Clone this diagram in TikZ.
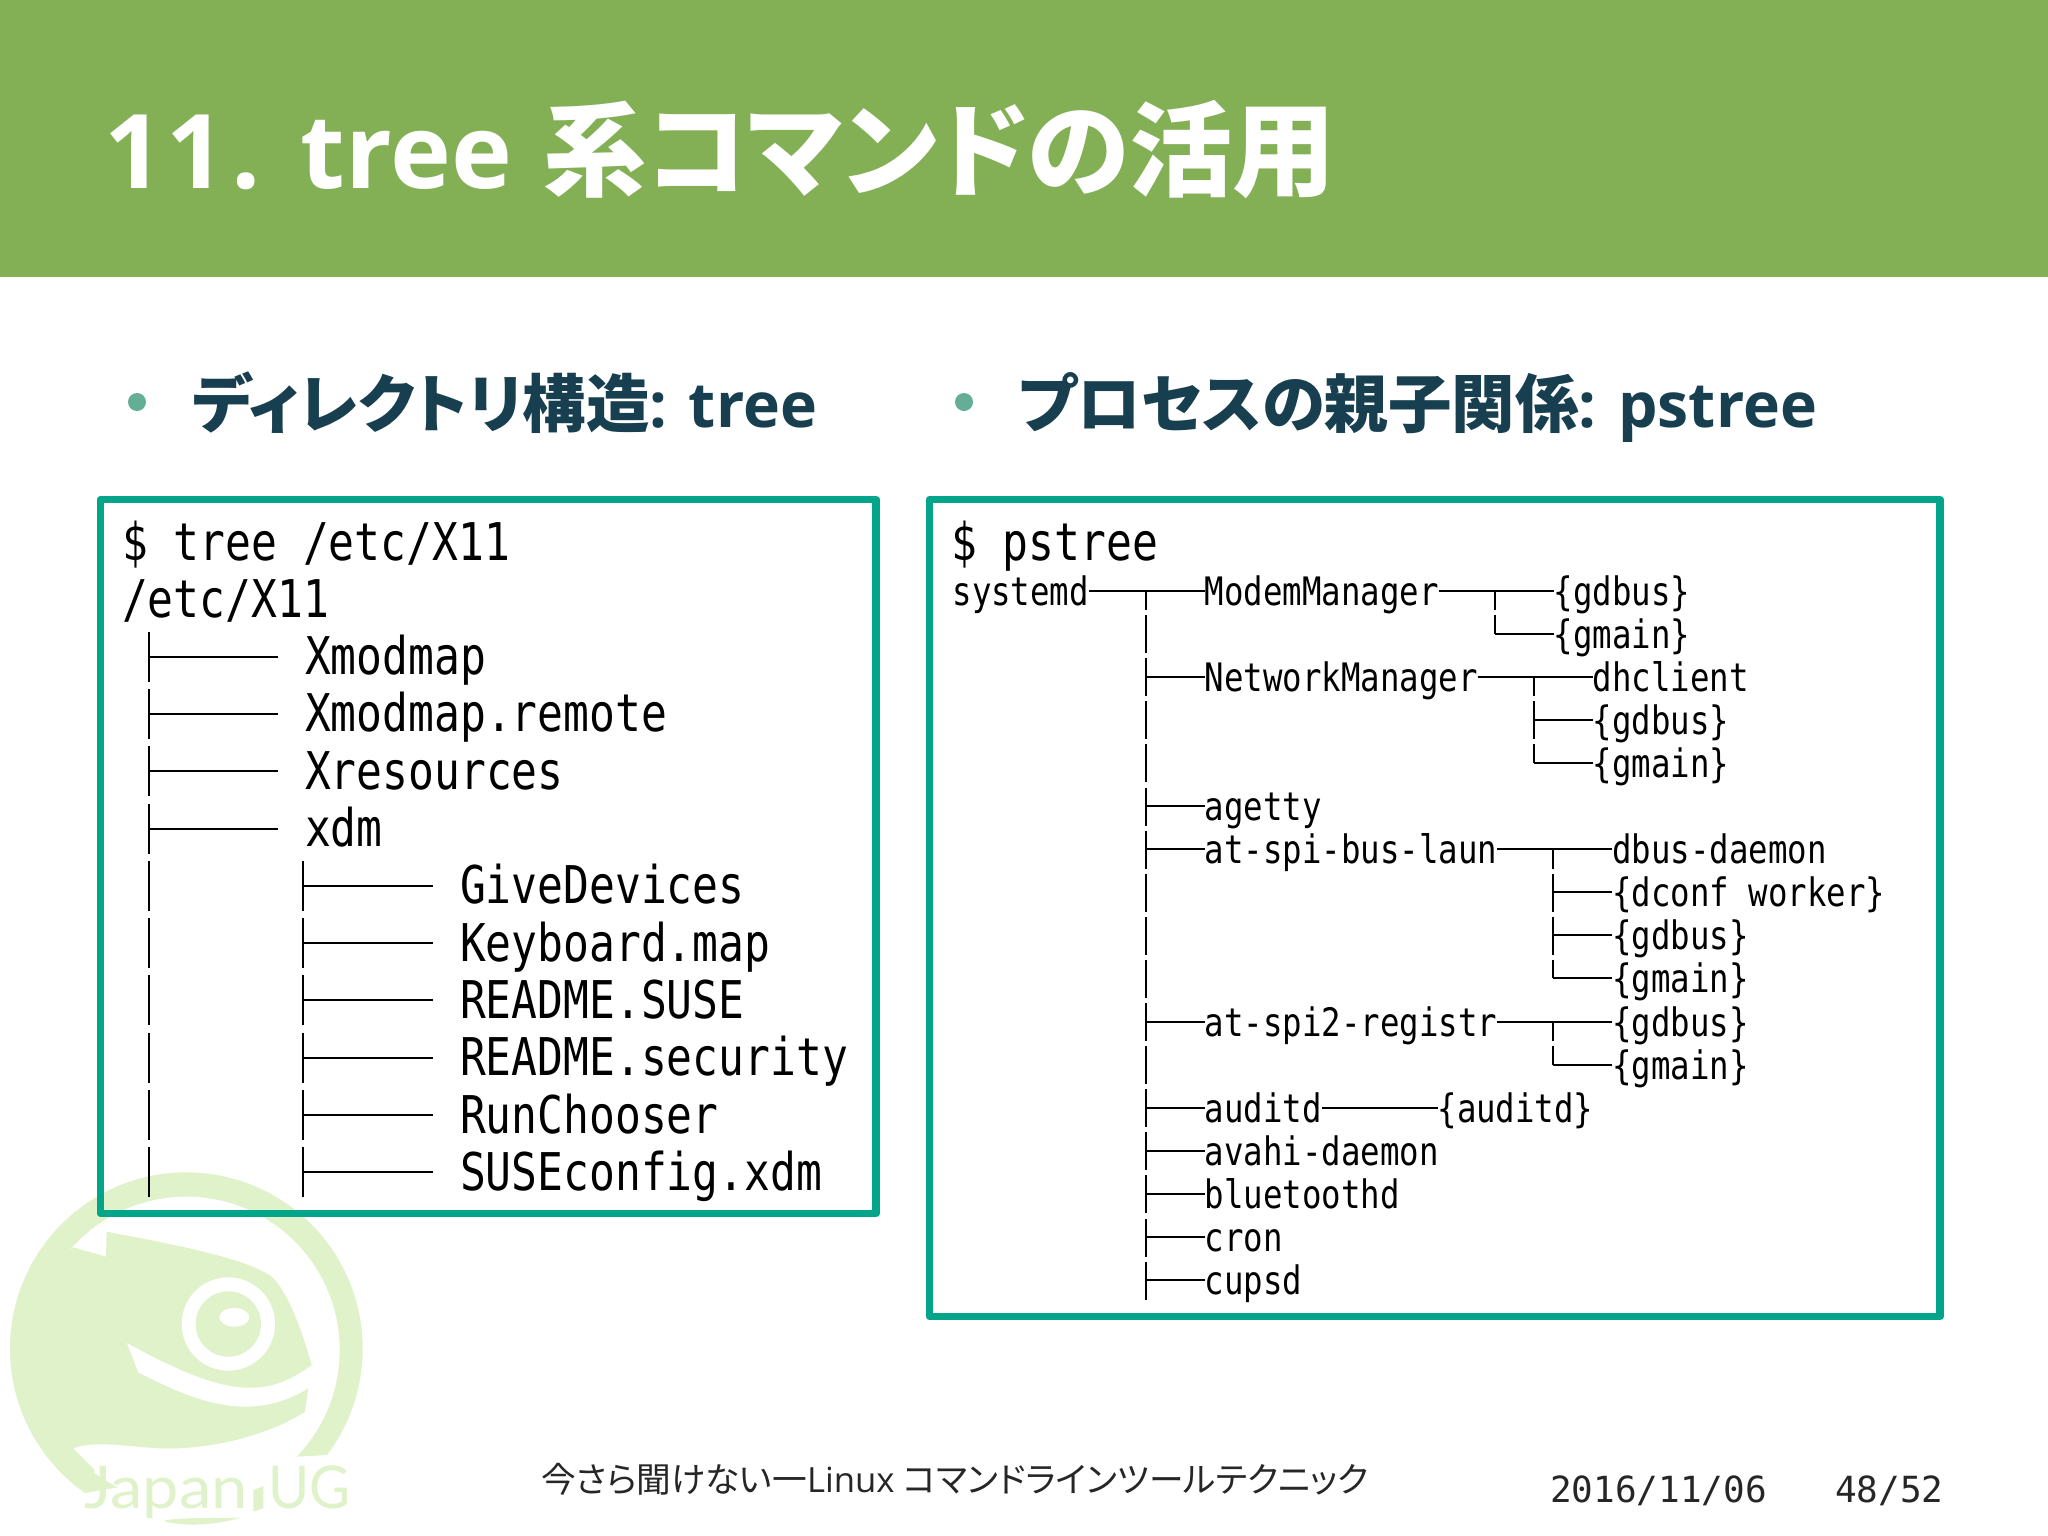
\documentclass[tikz,border=0pt]{standalone}
\usepackage{fontspec}
\setmainfont{Open Sans}
\newfontfamily\cjk[RawFeature=+palt]{Noto Sans CJK JP}
\newfontfamily\logofont[FakeStretch=1.1]{Lato}
\newfontfamily\logofontb[FakeStretch=0.95]{Lato}
\newfontfamily\termfont[FakeStretch=0.826]{DejaVu Sans Mono}
\newfontfamily\footfont{DejaVu Sans Mono}
\definecolor{headgreen}{HTML}{83B055}
\definecolor{boxteal}{HTML}{02A58A}
\definecolor{headtext}{HTML}{173F4F}
\definecolor{bulletc}{HTML}{64AE96}
\definecolor{logogreen}{HTML}{E0F2C9}
\tikzset{
  termbig/.style={anchor=base west,inner sep=0pt,outer sep=0pt,font={\termfont\fontsize{52}{52}\selectfont},text=black},
  termsmall/.style={anchor=base west,inner sep=0pt,outer sep=0pt,font={\termfont\fontsize{39.2}{39.2}\selectfont},text=black},
  conn/.style={draw=black,line width=2pt},
  termbox/.style={draw=boxteal,line width=7.5pt,line join=round},
  headlabel/.style={anchor=base west,inner sep=0pt,text=headtext,font={\bfseries\fontsize{62.5}{62.5}\selectfont}},
  bulletdot/.style={circle,fill=bulletc,inner sep=0pt,minimum size=18pt},
}
\newcommand{\headcjk}[1]{{\cjk\fontsize{63.5}{63.5}\selectfont #1}}
% left tree helpers
\newcommand{\bigrow}[4]{\node[termbig] (#1) at ({#2},{560+57.3*#3}) {#4};}
\newcommand{\bigdash}[2]{\draw[conn] ({#1},{560+57.3*#2-43}) -- ({#1},{560+57.3*#2+7});}
\newcommand{\bigtick}[3]{%
  \bigdash{#1}{#2}
  \coordinate (v#3) at ({#1},{560+57.3*#2-18});
  \draw[conn] (v#3) -- ([xshift=-27pt,yshift=18pt]#3.base west);}
% right tree helpers
\newcommand{\smrow}[4]{\node[termsmall] (#1) at ({952.5+19.4*#2},{605+43.1*#3}) {#4};}
\newcommand{\smdash}[2]{\draw[conn] ({952+19.4*#1},{605+43.1*#2-33}) -- ({952+19.4*#1},{605+43.1*#2+5});}
\newcommand{\smtee}[2]{\draw[conn] ({952+19.4*#1},{605+43.1*#2-14.5}) -- ({952+19.4*#1},{605+43.1*#2+5});}
\newcommand{\smjoin}[2]{\draw[conn] ([yshift=14.5pt]#1.base east) -- ([yshift=14.5pt]#2.base west);}
\newcommand{\smtick}[3]{%
  \smdash{#1}{#2}
  \coordinate (w#3) at ({952+19.4*#1},{605+43.1*#2-14.5});
  \draw[conn] (w#3) -- ([yshift=14.5pt]#3.base west);}
\newcommand{\smcorner}[3]{%
  \draw[conn] ({952+19.4*#1},{605+43.1*#2-33}) -- ({952+19.4*#1},{605+43.1*#2-14.5});
  \coordinate (w#3) at ({952+19.4*#1},{605+43.1*#2-14.5});
  \draw[conn] (w#3) -- ([yshift=14.5pt]#3.base west);}
\begin{document}
\begin{tikzpicture}[x=1pt,y=-1pt]
\useasboundingbox (0,0) rectangle (2048,1535);
\fill[white] (0,0) rectangle (2048,1535);
% logo
\begin{scope}[shift={(0,1150)},x=0.33333pt,y=-0.33333pt]
  \fill[logogreen] (559,596) circle[radius=529];
  \fill[white] (559,600) circle[radius=460];
  \fill[white] (255,1029) -- (255,1150) -- (1110,1150) -- (1110,900) -- (985,915) -- (890,920) -- cycle;
  \fill[logogreen] (320,245) .. controls (560,290) and (720,325) .. (800,370)
    .. controls (850,395) and (900,520) .. (935,645)
    .. controls (800,745) and (680,745) .. (380,578)
    -- (415,668) .. controls (560,740) and (740,830) .. (925,715)
    -- (915,785) .. controls (800,860) and (620,900) .. (480,895)
    .. controls (380,890) and (280,870) .. (220,895)
    -- (285,960) -- (255,1029) -- (100,860) -- (40,600) -- (90,400) -- (220,292) -- (318,320) -- cycle;
  \fill[white] (685,522) circle[radius=140];
  \fill[logogreen] (685,522) circle[radius=98];
  \fill[white] (703,502) ellipse[x radius=45,y radius=28];
  \fill[logogreen] (497,1110) .. controls (600,1100) and (650,1105) .. (720,1103)
    .. controls (650,1125) and (560,1130) .. (497,1115) -- cycle;
  \fill[logogreen] (760,1020) -- (790,1008) -- (790,1075) -- (760,1085) -- cycle;
\end{scope}
\node[anchor=base west,inner sep=0pt,text=logogreen,font={\logofont\fontsize{59}{59}\selectfont}] (japan) at (84,1508) {Japan};
\node[anchor=base west,inner sep=0pt,text=logogreen,font={\logofontb\fontsize{59}{59}\selectfont}] (ug) at (268,1508) {UG};
% header
\fill[headgreen] (0,0) rectangle (2048,277);
\node[anchor=base west,inner sep=0pt,text=white,font={\bfseries\fontsize{103}{103}\selectfont}] (title) at (104,188) {1\hspace{3pt}1\hspace{7pt}.\hspace{4pt} tree\hspace{5pt} {\cjk\fontsize{103}{103}\selectfont 系コマンドの活用}};
% bullets
\node[bulletdot] (b1) at (137,402) {};
\node[headlabel] (h1) at (192,427) {\headcjk{ディレクトリ構造}: tree};
\node[bulletdot] (b2) at (964,402) {};
\node[headlabel] (h2) at (1018,427) {\headcjk{プロセスの親子関係}: pstree};
% boxes
\draw[termbox] (100.5,499.5) rectangle (876,1213.5);
\draw[termbox] (929.5,499.5) rectangle (1940,1316.5);
% left terminal
\bigrow{l0}{122}{0}{\$ tree /etc/X11}
\bigrow{l1}{122}{1}{/etc/X11}
\bigrow{a1}{305}{2}{Xmodmap}
\bigrow{a2}{305}{3}{Xmodmap.remote}
\bigrow{a3}{305}{4}{Xresources}
\bigrow{a4}{305}{5}{xdm}
\bigrow{c1}{460}{6}{GiveDevices}
\bigrow{c2}{460}{7}{Keyboard.map}
\bigrow{c3}{460}{8}{README.SUSE}
\bigrow{c4}{460}{9}{README.security}
\bigrow{c5}{460}{10}{RunChooser}
\bigrow{c6}{460}{11}{SUSEconfig.xdm}
\bigtick{149}{2}{a1}
\bigtick{149}{3}{a2}
\bigtick{149}{4}{a3}
\bigtick{149}{5}{a4}
\foreach \r in {6,...,11} {\bigdash{149}{\r}}
\bigtick{303}{6}{c1}
\bigtick{303}{7}{c2}
\bigtick{303}{8}{c3}
\bigtick{303}{9}{c4}
\bigtick{303}{10}{c5}
\bigtick{303}{11}{c6}
% right terminal
\node[termbig] (r0) at (951,560) {\$ pstree};
\smrow{sd}{0}{0}{systemd}
\smrow{mm}{13}{0}{ModemManager}
\smrow{mg1}{31}{0}{\{gdbus\}}
\smrow{mg2}{31}{1}{\{gmain\}}
\smrow{nm}{13}{2}{NetworkManager}
\smrow{nd}{33}{2}{dhclient}
\smrow{ng1}{33}{3}{\{gdbus\}}
\smrow{ng2}{33}{4}{\{gmain\}}
\smrow{ag}{13}{5}{agetty}
\smrow{ab}{13}{6}{at-spi-bus-laun}
\smrow{ab1}{34}{6}{dbus-daemon}
\smrow{ab2}{34}{7}{\{dconf worker\}}
\smrow{ab3}{34}{8}{\{gdbus\}}
\smrow{ab4}{34}{9}{\{gmain\}}
\smrow{ar}{13}{10}{at-spi2-registr}
\smrow{ar1}{34}{10}{\{gdbus\}}
\smrow{ar2}{34}{11}{\{gmain\}}
\smrow{au}{13}{12}{auditd}
\smrow{au1}{25}{12}{\{auditd\}}
\smrow{av}{13}{13}{avahi-daemon}
\smrow{bt}{13}{14}{bluetoothd}
\smrow{cr}{13}{15}{cron}
\smrow{cu}{13}{16}{cupsd}
\smjoin{sd}{mm}\smtee{10}{0}
\smjoin{mm}{mg1}\smtee{28}{0}
\smcorner{28}{1}{mg2}
\smjoin{nm}{nd}\smtee{30}{2}
\smtick{30}{3}{ng1}
\smcorner{30}{4}{ng2}
\smjoin{ab}{ab1}\smtee{31}{6}
\smtick{31}{7}{ab2}
\smtick{31}{8}{ab3}
\smcorner{31}{9}{ab4}
\smjoin{ar}{ar1}\smtee{31}{10}
\smcorner{31}{11}{ar2}
\smjoin{au}{au1}
\foreach \r in {1,3,4,7,8,9,11} {\smdash{10}{\r}}
\smtick{10}{2}{nm}
\smtick{10}{5}{ag}
\smtick{10}{6}{ab}
\smtick{10}{10}{ar}
\smtick{10}{12}{au}
\smtick{10}{13}{av}
\smtick{10}{14}{bt}
\smtick{10}{15}{cr}
\smtick{10}{16}{cu}
% footer
\node[anchor=base west,inner sep=0pt,text=black!85,font={\fontsize{34.7}{34.7}\selectfont}] (ft) at (541,1492) {{\cjk 今さら聞けない一}Linux {\cjk コマンドラインツールテクニック}};
\node[anchor=base west,inner sep=0pt,text=black!85,font={\footfont\fontsize{36}{36}\selectfont}] (fd) at (1550,1502) {2016/11/06};
\node[anchor=base west,inner sep=0pt,text=black!85,font={\footfont\fontsize{36}{36}\selectfont}] (fp) at (1835,1502) {48/52};
\end{tikzpicture}
\end{document}
